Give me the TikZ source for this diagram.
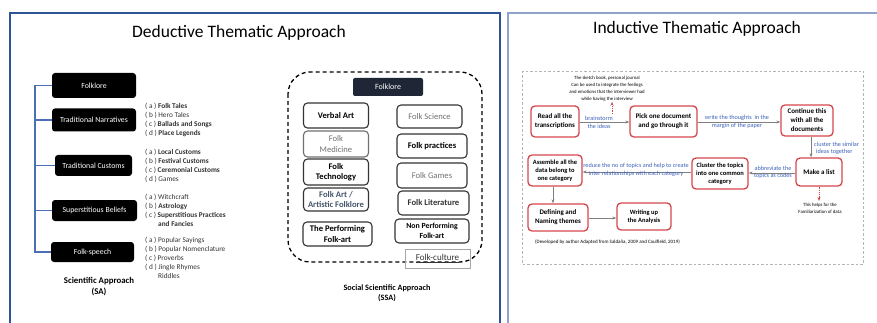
\documentclass[tikz,border=0pt]{standalone}
\usepackage{fontspec}
\setmainfont{Carlito}
\usetikzlibrary{arrows.meta}
\definecolor{panelL}{HTML}{2E5597}
\definecolor{panelR}{HTML}{8FA3C8}
\definecolor{treeblue}{HTML}{4A6FB5}
\definecolor{redc}{HTML}{D4464B}
\definecolor{lblue}{HTML}{3B62B8}
\definecolor{agray}{HTML}{808080}
\definecolor{navy}{HTML}{1F2635}
\definecolor{dgray}{HTML}{333333}
\definecolor{mgray}{HTML}{707070}
\definecolor{artblue}{HTML}{44546A}
\newcommand\myfs[2]{\fontsize{#1}{#2}\selectfont}
\begin{document}
\begin{tikzpicture}[x=1pt,y=-1pt,
  blackbox/.style={fill=black,rounded corners=3pt,text=white,font=\myfs{7.8}{9},inner sep=0pt,align=center},
  ssabox/.style={draw=dgray,line width=1.1pt,rounded corners=4pt,font=\myfs{8.6}{10.5}\bfseries,inner sep=0pt,align=center,text=black},
  redbox/.style={draw=redc,line width=1.3pt,rounded corners=4pt,font=\myfs{7}{9}\bfseries,inner sep=0pt,align=center,text=black},
  listtxt/.style={font=\myfs{7.3}{9},inner sep=0pt,align=left,anchor=west,text=dgray},
  treeline/.style={draw=treeblue,line width=1.2pt},
  garrow/.style={draw=agray,line width=0.8pt,-{Stealth[length=4pt,width=3pt]}},
  rarrow/.style={draw=redc,line width=0.8pt,densely dotted,-{Stealth[length=4pt,width=3pt]}},
  lbl/.style={font=\myfs{6.2}{7},text=lblue,inner sep=0pt},
  tiny/.style={font=\myfs{4.8}{7},text=black,inner sep=0pt,align=center},
  ttl/.style={font=\myfs{17.5}{20},inner sep=0pt}
]
\useasboundingbox (0,0) rectangle (877,323);
\clip (0,0) rectangle (877,323);
% panels
\draw[panelL,line width=1.6pt] (10,13) rectangle (500,345);
\draw[panelR,line width=1.2pt] (508,13) rectangle (895,345);
\node[ttl] (t1) at (239,33) {Deductive Thematic Approach};
\node[ttl] (t2) at (697,29) {Inductive Thematic Approach};

% ---- Scientific approach tree
\node[blackbox,minimum width=84pt,minimum height=25pt] (fk) at (94,85.5) {Folklore};
\node[blackbox,minimum width=84pt,minimum height=23pt] (nar) at (94,120) {Traditional Narratives};
\node[blackbox,minimum width=77pt,minimum height=21pt] (cus) at (93.5,165.5) {Traditional Customs};
\node[blackbox,minimum width=85pt,minimum height=21pt] (sup) at (94.5,210.5) {Superstitious Beliefs};
\node[blackbox,minimum width=83pt,minimum height=20pt] (spe) at (92.5,252) {Folk-speech};
\coordinate (trunk) at (35,0);
\draw[treeline] (fk.west) -- (fk.west -| trunk) -- (spe.west -| trunk) -- (spe.west);
\draw[treeline] (nar.west -| trunk) -- (nar.west);
\draw[treeline] (cus.west -| trunk) -- (cus.west);
\draw[treeline] (sup.west -| trunk) -- (sup.west);

\node[listtxt] (l1) at (145,119.5) {( a ) \textbf{Folk Tales}\\( b ) Hero Tales\\( c ) \textbf{Ballads and Songs}\\( d ) \textbf{Place Legends}};
\node[listtxt] (l2) at (145,165.5) {( a ) \textbf{Local Customs}\\( b ) \textbf{Festival Customs}\\( c ) \textbf{Ceremonial Customs}\\( d ) Games};
\node[listtxt] (l3) at (145,210.5) {( a ) Witchcraft\\( b ) \textbf{Astrology}\\( c ) \textbf{Superstitious Practices}\\\hspace*{13pt}\textbf{and Fancies}};
\node[listtxt] (l4) at (145,258) {( a ) Popular Sayings\\( b ) Popular Nomenclature\\( c ) Proverbs\\( d ) Jingle Rhymes\\\hspace*{13pt}Riddles};
\node[font=\myfs{8.8}{11}\bfseries,align=center,inner sep=0pt] (sa) at (99,286.5) {Scientific Approach\\(SA)};

% ---- Social scientific approach
\draw[dashed,line width=1.3pt,dash pattern=on 4pt off 3pt,rounded corners=22pt] (288,72) rectangle (482,262);
\node[fill=navy,rounded corners=2pt,text=white,font=\myfs{8}{9},inner sep=0pt,minimum width=70pt,minimum height=18pt] (sfk) at (388,87) {Folklore};
\node[ssabox,minimum width=65pt,minimum height=25pt] (va) at (336,115.5) {Verbal Art};
\node[ssabox,minimum width=65pt,minimum height=26pt,draw=mgray,text=mgray,font=\myfs{8.6}{10.5}] (fm) at (336,144) {Folk\\Medicine};
\node[ssabox,minimum width=65pt,minimum height=26pt] (ft) at (336,172) {Folk\\Technology};
\node[ssabox,minimum width=65pt,minimum height=23pt,text=artblue] (fa) at (336,199.5) {Folk Art /\\Artistic Folklore};
\node[ssabox,minimum width=69pt,minimum height=24pt] (pf) at (337.5,234) {The Performing\\Folk-art};
\node[ssabox,minimum width=65pt,minimum height=23pt,text=mgray,font=\myfs{8.6}{10.5}] (fsc) at (429.5,116.5) {Folk Science};
\node[ssabox,minimum width=70pt,minimum height=24pt] (fp) at (432,146) {Folk practices};
\node[ssabox,minimum width=70pt,minimum height=25pt,text=mgray,font=\myfs{8.6}{10.5}] (fg) at (432,175.5) {Folk Games};
\node[ssabox,minimum width=71pt,minimum height=24pt,text=dgray] (fl) at (433.5,203) {Folk Literature};
\node[ssabox,minimum width=74pt,minimum height=24pt,font=\myfs{7.8}{9.5}\bfseries] (np) at (432,231) {Non Performing\\Folk-art};
\node[draw=agray!70,line width=0.8pt,minimum width=65pt,minimum height=19pt,inner sep=0pt,font=\myfs{9}{10},text=dgray] (fc) at (437.5,258.5) {\underline{Folk-culture}};
\node[font=\myfs{8.2}{10}\bfseries,align=center,inner sep=0pt] (ssa) at (387,293.5) {Social Scientific Approach\\(SSA)};

% ---- Inductive approach
\draw[agray!60,line width=0.8pt,dash pattern=on 2.5pt off 2pt] (522,71) rectangle (863,264);
\node[redbox,minimum width=48pt,minimum height=31pt] (rd) at (555,121.5) {Read all the\\transcriptions};
\node[redbox,minimum width=67pt,minimum height=31pt] (pk) at (663.5,121.5) {Pick one document\\and go through it};
\node[redbox,minimum width=52pt,minimum height=31pt] (ct) at (807,120.5) {Continue this\\with all the\\documents};
\node[redbox,minimum width=46pt,minimum height=28pt] (ml) at (819,172) {Make a list};
\node[redbox,minimum width=56pt,minimum height=31pt,font=\myfs{6.5}{8}\bfseries] (cl) at (720,173.5) {Cluster the topics\\into one common\\category};
\node[redbox,minimum width=54pt,minimum height=31pt,font=\myfs{6.5}{8}\bfseries] (as) at (555,170.5) {Assemble all the\\data belong to\\one category};
\node[redbox,minimum width=60pt,minimum height=27pt] (df) at (558,217.5) {Defining and\\Naming themes};
\node[redbox,minimum width=54pt,minimum height=27pt,font=\myfs{6.5}{8}\bfseries] (wr) at (644,216.5) {Writing up\\the Analysis};

\draw[garrow] (rd.east |- 0,122) -- (pk.west |- 0,122);
\node[lbl] at (599,118) {brainstorm};
\node[lbl] at (599,126) {the ideas};
\draw[garrow] (pk.east |- 0,122) -- (ct.west |- 0,122);
\node[lbl] at (737,118) {write the thoughts\ \ in the};
\node[lbl] at (737,126) {margin of the paper};
\draw[garrow] (ct.south -| 811,0) -- (ml.north -| 811,0);
\node[lbl,anchor=west] at (814,144) {cluster the similar};
\node[lbl,anchor=west] at (816,151.5) {ideas together};
\draw[garrow] (ml.west |- 0,173) -- (cl.east |- 0,173);
\node[lbl] at (773,168) {abbreviate the};
\node[lbl] at (773,176) {topics as codes};
\draw[garrow] (cl.west |- 0,172) -- (as.east |- 0,172);
\node[lbl] at (636,166) {reduce the no of topics and help to create};
\node[lbl] at (636,174) {inter relationships with each category};
\draw[garrow] (as.south -| 553,0) -- (df.north -| 553,0);
\draw[garrow] (df.east |- 0,218) -- (wr.west |- 0,218);

\node[tiny] (sk) at (607,89) {The sketch book, personal journal\\Can be used to integrate the feelings\\and emotions that the interviewer had\\while having the interview};
\coordinate (skf) at (612,114);
\draw[rarrow] (skf) -- (sk.south -| skf);
\coordinate (hp) at (819,201);
\draw[rarrow] (ml.south -| hp) -- (hp);
\node[tiny] (hpt) at (820,208.5) {This helps for the\\Familiarization of data};
\node[tiny,font=\myfs{5}{7}] (dev) at (607.5,242) {(Developed by author Adapted from Salda\~na, 2009 and Caulfield, 2019)};
\end{tikzpicture}
\end{document}
